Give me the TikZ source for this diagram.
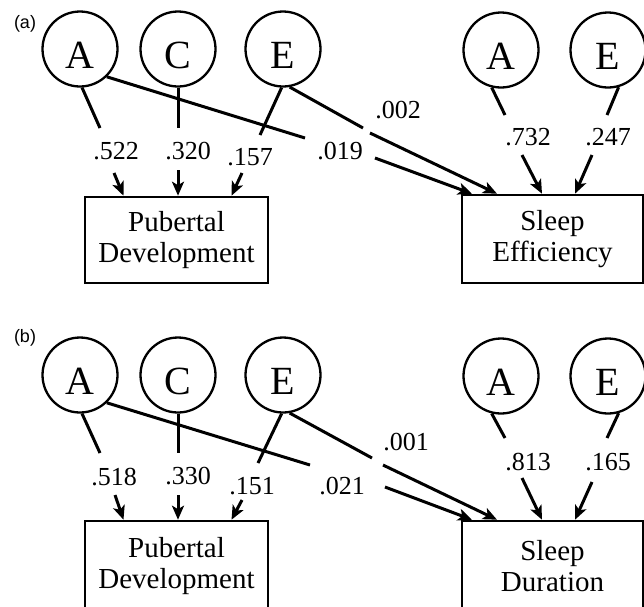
\documentclass[tikz,border=0pt]{standalone}
\usepackage{fontspec}
\setmainfont{Liberation Serif}
\newfontfamily\panelfont{Liberation Sans}
\usetikzlibrary{arrows.meta}
\tikzset{
  latent/.style={circle, draw, line width=2.3pt, minimum size=75pt, inner sep=0pt,
    text height=39pt, text depth=0pt, font=\fontsize{40}{40}\selectfont},
  obsbox/.style={rectangle, draw, line width=2.6pt, minimum width=183pt, minimum height=86pt,
    inner sep=0pt, align=center, font=\fontsize{29}{31}\selectfont},
  coef/.style={inner sep=0pt, font=\fontsize{26}{26}\selectfont},
  path/.style={line width=3pt},
  arr/.style={line width=3pt, -{Stealth[length=14pt, width=12pt, inset=3.5pt]}},
  panel/.style={inner sep=0pt, font=\panelfont\fontsize{18}{18}\selectfont}
}
\begin{document}
\begin{tikzpicture}[x=1pt, y=-1pt]
\useasboundingbox (0,0) rectangle (644,606);

% ---------------- panel (a) ----------------
\node[panel] (pa) at (25,24) {(a)};
\node[latent] (aA) at (80,49) {A};
\node[latent] (aC) at (178,49) {C};
\node[latent] (aE) at (283,49) {E};
\node[latent] (aA2) at (501,50) {A};
\node[latent] (aE2) at (608,50) {E};
\node[obsbox] (PDa) at (176.5,240) {Pubertal\\Development};
\node[obsbox, minimum width=181pt, minimum height=88pt] (SE) at (552.5,239) {Sleep\\Efficiency};

\node[coef] (a522) at (116,151) {.522};
\node[coef] (a320) at (188,151) {.320};
\node[coef] (a157) at (250,157) {.157};
\node[coef] (a019) at (340,151) {.019};
\node[coef] (a002) at (398,110) {.002};
\node[coef] (a732) at (528,137) {.732};
\node[coef] (a247) at (608,137) {.247};

\coordinate (a1e) at (100,128);  \coordinate (a1s) at (114,173);
\coordinate (a2e) at (178,128);  \coordinate (a2s) at (178,170);
\coordinate (a3e) at (260,135);  \coordinate (a3s) at (242,173);
\coordinate (a4e) at (305,138);  \coordinate (a4s) at (375,158);
\coordinate (a5e) at (363,128);  \coordinate (a5s) at (370,133);
\coordinate (a6e) at (505,115);  \coordinate (a6s) at (522,155);
\coordinate (a7e) at (607,115);  \coordinate (a7s) at (592,155);

\draw[path] (aA.-87) -- (a1e);
\draw[arr] (a1s) -- ([xshift=-53pt]PDa.north);
\draw[path] (aC.south) -- (a2e);
\draw[arr] (a2s) -- ([xshift=1.5pt]PDa.north);
\draw[path] (aE.-92) -- (a3e);
\draw[arr] (a3s) -- ([xshift=55pt]PDa.north);
\draw[path] (aA.-46) -- (a4e);
\draw[arr] (a4s) -- ([xshift=-80.5pt]SE.north);
\draw[path] (aE.-80) -- (a5e);
\draw[arr] (a5s) -- ([xshift=-55.5pt]SE.north);
\draw[path] (aA2.-104) -- (a6e);
\draw[arr] (a6s) -- ([xshift=-10.5pt]SE.north);
\draw[path] (aE2.-74) -- (a7e);
\draw[arr] (a7s) -- ([xshift=22.5pt]SE.north);

% ---------------- panel (b) ----------------
\node[panel] (pb) at (25,338) {(b)};
\node[latent] (bA) at (80,375) {A};
\node[latent] (bC) at (178,375) {C};
\node[latent] (bE) at (283,375) {E};
\node[latent] (bA2) at (501,376) {A};
\node[latent] (bE2) at (608,376) {E};
\node[obsbox, minimum height=90pt] (PDb) at (176.5,566) {Pubertal\\Development};
\node[obsbox, minimum width=181pt, minimum height=90pt] (SD) at (552.5,566) {Sleep\\Duration};

\node[coef] (b518) at (114,477) {.518};
\node[coef] (b330) at (188,476) {.330};
\node[coef] (b151) at (252,486) {.151};
\node[coef] (b021) at (342,486) {.021};
\node[coef] (b001) at (406,442) {.001};
\node[coef] (b813) at (528,462) {.813};
\node[coef] (b165) at (608,462) {.165};

\coordinate (b1e) at (100,453);  \coordinate (b1s) at (115,495);
\coordinate (b2e) at (178,453);  \coordinate (b2s) at (178,495);
\coordinate (b3e) at (258,463);  \coordinate (b3s) at (242,500);
\coordinate (b4e) at (310,465);  \coordinate (b4s) at (385,487);
\coordinate (b5e) at (372,458);  \coordinate (b5s) at (383,465);
\coordinate (b6e) at (505,438);  \coordinate (b6s) at (522,478);
\coordinate (b7e) at (607,438);  \coordinate (b7s) at (592,482);

\draw[path] (bA.-87) -- (b1e);
\draw[arr] (b1s) -- ([xshift=-53pt]PDb.north);
\draw[path] (bC.south) -- (b2e);
\draw[arr] (b2s) -- ([xshift=1.5pt]PDb.north);
\draw[path] (bE.-92) -- (b3e);
\draw[arr] (b3s) -- ([xshift=55pt]PDb.north);
\draw[path] (bA.-46) -- (b4e);
\draw[arr] (b4s) -- ([xshift=-80.5pt]SD.north);
\draw[path] (bE.-80) -- (b5e);
\draw[arr] (b5s) -- ([xshift=-55.5pt]SD.north);
\draw[path] (bA2.-104) -- (b6e);
\draw[arr] (b6s) -- ([xshift=-10.5pt]SD.north);
\draw[path] (bE2.-74) -- (b7e);
\draw[arr] (b7s) -- ([xshift=22.5pt]SD.north);
\end{tikzpicture}
\end{document}
